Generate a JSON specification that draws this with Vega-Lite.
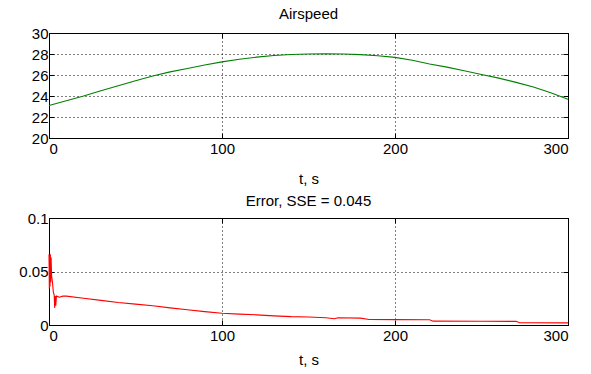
{
  "$schema": "https://vega.github.io/schema/vega-lite/v6.json",
  "background": "white",
  "padding": {"left": 18, "top": 6, "right": 5, "bottom": 5},
  "spacing": 6,
  "config": {
    "font": "Liberation Sans",
    "view": {"stroke": "black", "strokeWidth": 1},
    "axis": {
      "domainColor": "black",
      "tickColor": "black",
      "tickSize": -5,
      "labelColor": "black",
      "labelFont": "Liberation Sans",
      "labelFontSize": 15,
      "labelPadding": 8,
      "titleFont": "Liberation Sans",
      "titleFontSize": 15,
      "titleFontWeight": "normal",
      "titleColor": "black",
      "gridColor": "black",
      "gridOpacity": 1,
      "gridDash": [1, 3],
      "gridWidth": 1
    },
    "title": {"font": "Liberation Sans", "fontSize": 15, "fontWeight": "normal", "color": "black", "offset": 4}
  },
  "datasets": {
    "airspeed": [
      {"t": 0, "v": 23.1}, {"t": 10, "v": 23.55}, {"t": 20, "v": 24.0}, {"t": 30, "v": 24.5},
      {"t": 40, "v": 24.98}, {"t": 50, "v": 25.45}, {"t": 60, "v": 25.9}, {"t": 70, "v": 26.3},
      {"t": 80, "v": 26.62}, {"t": 90, "v": 26.95}, {"t": 100, "v": 27.25}, {"t": 110, "v": 27.5},
      {"t": 120, "v": 27.7}, {"t": 130, "v": 27.85}, {"t": 140, "v": 27.95}, {"t": 150, "v": 28.0},
      {"t": 160, "v": 28.02}, {"t": 170, "v": 28.0}, {"t": 180, "v": 27.94}, {"t": 190, "v": 27.83},
      {"t": 200, "v": 27.68}, {"t": 210, "v": 27.4}, {"t": 220, "v": 27.05}, {"t": 230, "v": 26.75},
      {"t": 240, "v": 26.4}, {"t": 250, "v": 26.05}, {"t": 260, "v": 25.7}, {"t": 270, "v": 25.3},
      {"t": 280, "v": 24.85}, {"t": 290, "v": 24.3}, {"t": 300, "v": 23.7}
    ],
    "error": [
      {"t": 0, "e": 0.066}, {"t": 0.2, "e": 0.034}, {"t": 0.4, "e": 0.065}, {"t": 0.6, "e": 0.036},
      {"t": 0.8, "e": 0.066}, {"t": 1.0, "e": 0.04}, {"t": 1.2, "e": 0.063}, {"t": 1.5, "e": 0.046},
      {"t": 2.0, "e": 0.04}, {"t": 2.5, "e": 0.031}, {"t": 3.0, "e": 0.028}, {"t": 3.3, "e": 0.016},
      {"t": 3.6, "e": 0.027}, {"t": 3.9, "e": 0.018}, {"t": 4.3, "e": 0.027}, {"t": 6, "e": 0.026},
      {"t": 8, "e": 0.027}, {"t": 10, "e": 0.027}, {"t": 20, "e": 0.025}, {"t": 30, "e": 0.023},
      {"t": 40, "e": 0.021}, {"t": 50, "e": 0.0195}, {"t": 60, "e": 0.018}, {"t": 70, "e": 0.016},
      {"t": 80, "e": 0.0143}, {"t": 90, "e": 0.0125}, {"t": 100, "e": 0.011}, {"t": 110, "e": 0.0102},
      {"t": 120, "e": 0.0095}, {"t": 130, "e": 0.0085}, {"t": 140, "e": 0.0078}, {"t": 150, "e": 0.0075},
      {"t": 160, "e": 0.0068}, {"t": 165, "e": 0.0058}, {"t": 167, "e": 0.0068}, {"t": 180, "e": 0.0064},
      {"t": 185, "e": 0.0052}, {"t": 200, "e": 0.005}, {"t": 220, "e": 0.0049}, {"t": 222, "e": 0.0036},
      {"t": 250, "e": 0.0035}, {"t": 270, "e": 0.0034}, {"t": 272, "e": 0.0021}, {"t": 300, "e": 0.002}
    ]
  },
  "vconcat": [
    {
      "title": "Airspeed",
      "width": 519,
      "height": 105,
      "data": {"name": "airspeed"},
      "layer": [
        {
          "mark": {"type": "line", "color": "#008000", "strokeWidth": 1.1},
          "encoding": {
            "x": {"field": "t", "type": "quantitative", "scale": {"domain": [0, 300], "nice": false},
                  "axis": {"values": [0, 100, 200, 300], "title": "t, s", "titlePadding": 15}},
            "y": {"field": "v", "type": "quantitative", "scale": {"domain": [20, 30], "nice": false, "zero": false},
                  "axis": {"values": [20, 22, 24, 26, 28, 30], "title": null, "labelPadding": 6}}
          }
        },
        {
          "mark": {"type": "line", "opacity": 0},
          "encoding": {
            "x": {"field": "t", "type": "quantitative", "scale": {"domain": [0, 300], "nice": false},
                  "axis": {"orient": "top", "values": [0, 100, 200, 300], "labels": false, "grid": false, "title": null}},
            "y": {"field": "v", "type": "quantitative", "scale": {"domain": [20, 30], "nice": false, "zero": false},
                  "axis": {"orient": "right", "values": [20, 22, 24, 26, 28, 30], "labels": false, "grid": false, "title": null}}
          }
        }
      ],
      "resolve": {"scale": {"x": "independent", "y": "independent"}}
    },
    {
      "title": {"text": "Error, SSE = 0.045", "offset": 2},
      "width": 519,
      "height": 107,
      "data": {"name": "error"},
      "layer": [
        {
          "mark": {"type": "line", "color": "#ff0000", "strokeWidth": 1.1},
          "encoding": {
            "x": {"field": "t", "type": "quantitative", "scale": {"domain": [0, 300], "nice": false},
                  "axis": {"values": [0, 100, 200, 300], "title": "t, s", "titlePadding": 9}},
            "y": {"field": "e", "type": "quantitative", "scale": {"domain": [0, 0.1], "nice": false},
                  "axis": {"values": [0, 0.05, 0.1], "format": "~g", "title": null, "labelPadding": 6}}
          }
        },
        {
          "mark": {"type": "line", "opacity": 0},
          "encoding": {
            "x": {"field": "t", "type": "quantitative", "scale": {"domain": [0, 300], "nice": false},
                  "axis": {"orient": "top", "values": [0, 100, 200, 300], "labels": false, "grid": false, "title": null}},
            "y": {"field": "e", "type": "quantitative", "scale": {"domain": [0, 0.1], "nice": false},
                  "axis": {"orient": "right", "values": [0, 0.05, 0.1], "labels": false, "grid": false, "title": null}}
          }
        }
      ],
      "resolve": {"scale": {"x": "independent", "y": "independent"}}
    }
  ]
}
